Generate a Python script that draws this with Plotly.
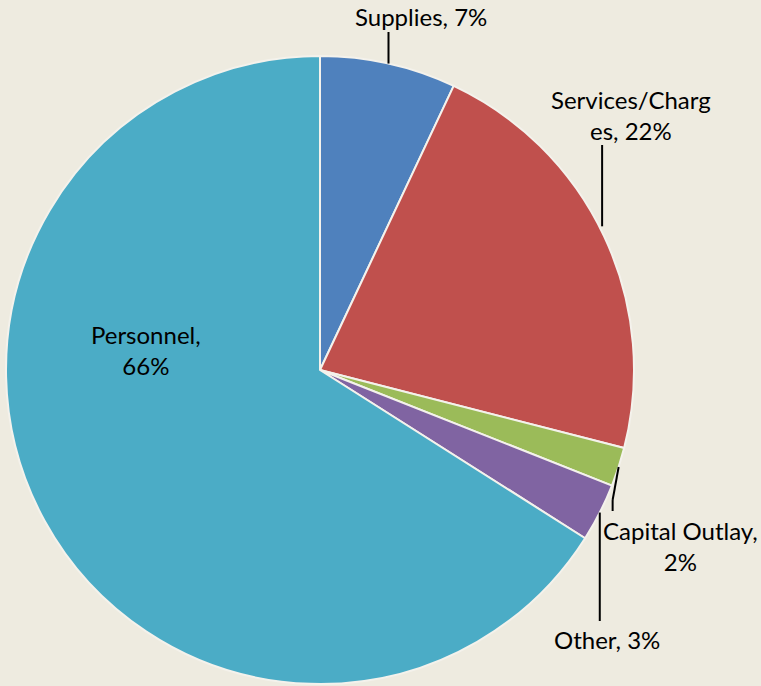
import math
import plotly.graph_objects as go

categories = ["Supplies", "Services/Charges", "Capital Outlay", "Other", "Personnel"]
percent_values = [7, 22, 2, 3, 66]
label_texts = ["Supplies, 7%", "Services/Charg<br>es, 22%", "Capital Outlay,<br>2%", "Other, 3%", "Personnel,<br>66%"]
colors = ["#4F81BD", "#C0504D", "#9BBB59", "#8064A2", "#4BACC6"]

W, H = 761, 686
CX, CY, R = 320, 370, 314  # pie center / radius in pixels (layout)
BG = "#EEEBE0"
FONT = "Lato"
FS = 24

fig = go.Figure(go.Pie(
    labels=categories,
    values=percent_values,
    sort=False,
    direction="clockwise",
    rotation=0,
    textinfo="none",
    marker=dict(colors=colors, line=dict(color="#F4F2EC", width=2)),
    domain=dict(x=[(CX - R) / W, (CX + R) / W], y=[(H - CY - R) / H, (H - CY + R) / H]),
    showlegend=False,
    hoverinfo="label+percent",
))


def px2paper(x, y):
    return x / W, 1 - y / H


# mid-angle rim points computed from data
total = sum(percent_values)
cum = 0
rim = []
for v in percent_values:
    mid = (cum + v / 2) / total * 2 * math.pi
    rim.append((CX + R * math.sin(mid), CY - R * math.cos(mid)))
    cum += v

# label placement (pixel offsets) and leader-line ends
label_pos = [(421, 17), (631, 115), (680, 546), (607, 639), (146, 350)]
leader_end = [(None, 32), (None, 145), ("cap", None), (None, 621), None]

annotations = []
shapes = []
for i, txt in enumerate(label_texts):
    lx, ly = label_pos[i]
    x, y = px2paper(lx, ly)
    annotations.append(dict(x=x, y=y, xref="paper", yref="paper", text=txt, showarrow=False,
                            font=dict(family=FONT, size=FS, color="#000000"), align="center",
                            xanchor="center", yanchor="middle"))
    rx, ry = rim[i]
    le = leader_end[i]
    if le is None:
        continue
    if le[0] == "cap":
        pts = [(rx, ry), (rx - 6, ry + 33), (rx - 6, ry + 44)]
        for (x0, y0), (x1, y1) in zip(pts[:-1], pts[1:]):
            a0 = px2paper(x0, y0); a1 = px2paper(x1, y1)
            shapes.append(dict(type="line", xref="paper", yref="paper", x0=a0[0], y0=a0[1],
                               x1=a1[0], y1=a1[1], line=dict(color="#000000", width=2)))
    else:
        if i == 1:
            sx, sy = rx - 2, ry - 10
        else:
            sx, sy = rx, ry
        a0 = px2paper(sx, sy); a1 = px2paper(sx, le[1])
        shapes.append(dict(type="line", xref="paper", yref="paper", x0=a0[0], y0=a0[1],
                           x1=a1[0], y1=a1[1], line=dict(color="#000000", width=2)))

fig.update_layout(
    width=W, height=H,
    margin=dict(l=0, r=0, t=0, b=0),
    paper_bgcolor=BG, plot_bgcolor=BG,
    annotations=annotations, shapes=shapes,
)

fig.write_html(
    "out.html",
    config={"displayModeBar": False},
    post_script="document.body.style.margin='0';document.body.style.padding='0';"
                "document.body.style.background='%s';document.body.style.overflow='hidden';" % BG,
)
